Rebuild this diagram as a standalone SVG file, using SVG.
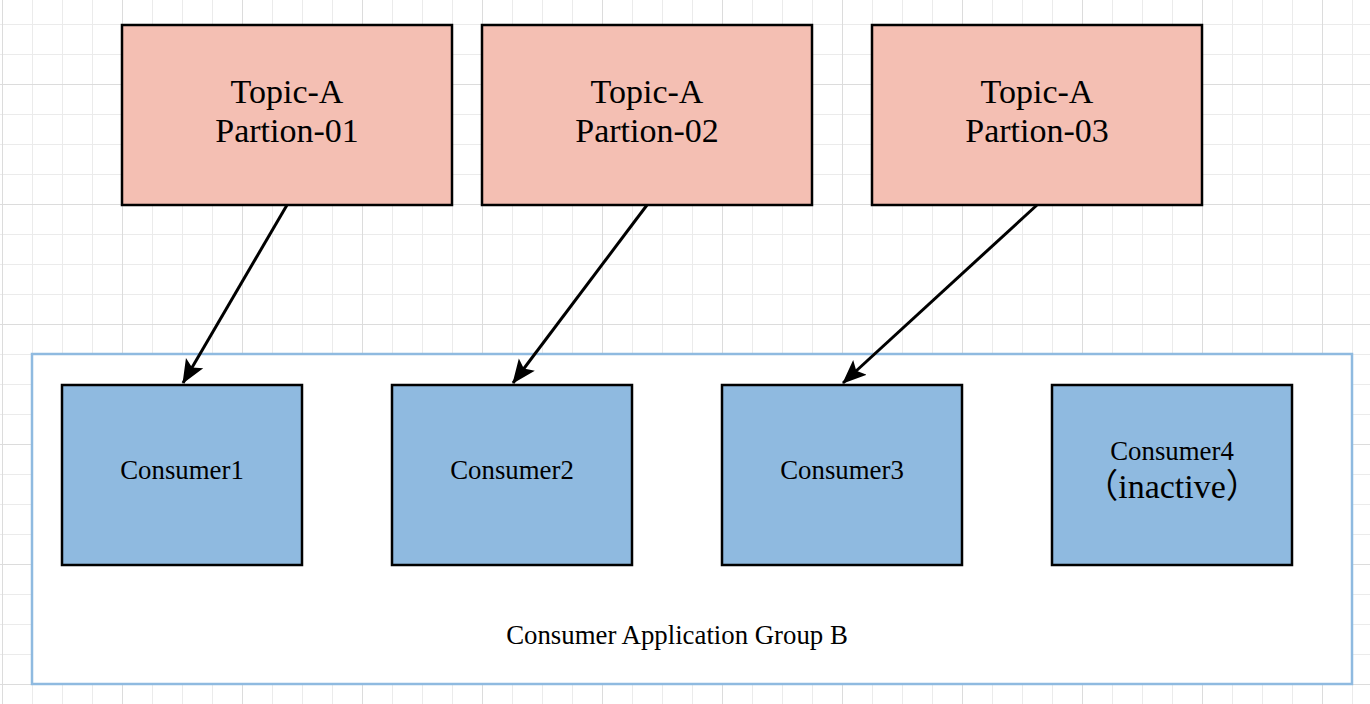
<svg xmlns="http://www.w3.org/2000/svg" width="1370" height="704" viewBox="0 0 1370 704">
<style>
.topic rect{fill:#f4bfb3;stroke:#000;stroke-width:2.5}
.cons rect{fill:#8fbae0;stroke:#000;stroke-width:2.5}
text{font-family:"Liberation Serif","Noto Sans CJK SC",serif;text-anchor:middle;fill:#000}
.t{font-size:34px}
.c{font-size:26.8px}
.conn line{stroke:#000;stroke-width:3}
</style>
<defs>
<pattern id="minor" patternUnits="userSpaceOnUse" x="2" y="24" width="30" height="30">
<path d="M0,0 H30 M0,0 V30" stroke="#ebebeb" stroke-width="2" fill="none"/>
</pattern>
<pattern id="major" patternUnits="userSpaceOnUse" x="2" y="84" width="120" height="120">
<path d="M0,0 H120 M0,0 V120" stroke="#dcdcdc" stroke-width="2" fill="none"/>
</pattern>
<marker id="arr" viewBox="0 0 24 22" refX="23" refY="11" markerWidth="24" markerHeight="22" markerUnits="userSpaceOnUse" orient="auto">
<path d="M0,1 L24,11 L0,21 L5,11 Z" fill="#000"/>
</marker>
</defs>
<rect width="1370" height="704" fill="#fff"/>
<rect width="1370" height="704" fill="url(#minor)"/>
<rect width="1370" height="704" fill="url(#major)"/>

<g id="group-b">
<rect x="32" y="354" width="1320" height="330" fill="#fff" stroke="#8fbae0" stroke-width="2.5"/>
<text class="c" x="677" y="644">Consumer Application Group B</text>
</g>

<g id="topic1" class="topic">
<rect x="122" y="25" width="330" height="180"/>
<text class="t" x="287" y="103">Topic-A</text>
<text class="t" x="287" y="142">Partion-01</text>
</g>
<g id="topic2" class="topic">
<rect x="482" y="25" width="330" height="180"/>
<text class="t" x="647" y="103">Topic-A</text>
<text class="t" x="647" y="142">Partion-02</text>
</g>
<g id="topic3" class="topic">
<rect x="872" y="25" width="330" height="180"/>
<text class="t" x="1037" y="103">Topic-A</text>
<text class="t" x="1037" y="142">Partion-03</text>
</g>

<g id="consumer1" class="cons">
<rect x="62" y="385" width="240" height="180"/>
<text class="c" x="182" y="479">Consumer1</text>
</g>
<g id="consumer2" class="cons">
<rect x="392" y="385" width="240" height="180"/>
<text class="c" x="512" y="479">Consumer2</text>
</g>
<g id="consumer3" class="cons">
<rect x="722" y="385" width="240" height="180"/>
<text class="c" x="842" y="479">Consumer3</text>
</g>
<g id="consumer4" class="cons">
<rect x="1052" y="385" width="240" height="180"/>
<text class="c" x="1172" y="460">Consumer4</text>
<text x="1172" y="498" style="font-size:34px">（inactive）</text>
</g>

<g id="connectors" class="conn">
<line x1="287" y1="205" x2="183" y2="383" marker-end="url(#arr)"/>
<line x1="647" y1="205" x2="513" y2="383" marker-end="url(#arr)"/>
<line x1="1037" y1="205" x2="843" y2="383" marker-end="url(#arr)"/>
</g>
</svg>
